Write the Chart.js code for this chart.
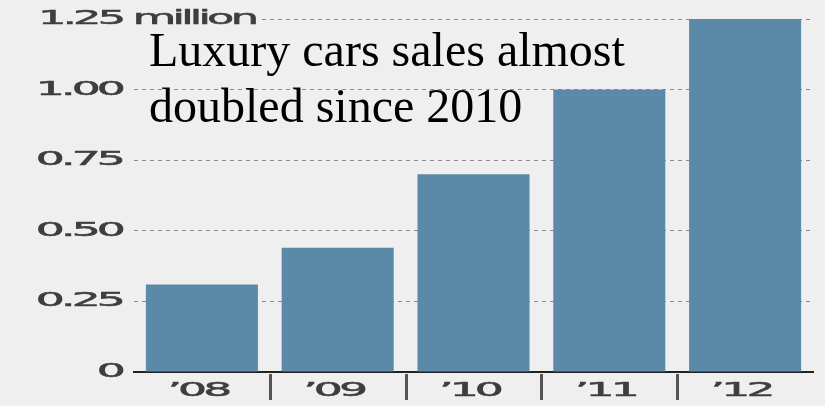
<!DOCTYPE html>
<html>
<head>
<meta charset="utf-8">
<script src="https://cdn.jsdelivr.net/npm/chart.js@4"></script>
<style>
  html, body { margin: 0; padding: 0; background: #efefef; overflow: hidden; }
  canvas { display: block; }
</style>
</head>
<body>
<canvas id="myChart" width="825" height="406"></canvas>
<script>
// luxury car sales per year, in millions
var years = ["\u201908", "\u201909", "\u201910", "\u201911", "\u201912"];
var sales = [0.31, 0.44, 0.70, 1.00, 1.25];

// y axis ticks and the text shown next to them
var yTicks = [0, 0.25, 0.5, 0.75, 1.0, 1.25];
var yTickLabels = ["0", "0.25", "0.50", "0.75", "1.00", "1.25 million"];

var titleLines = ["Luxury cars sales almost", "doubled since 2010"];

var bgColor = '#efefef';
var labelColor = '#3e3e3e';

// draws text stretched sideways (the axis labels use a wide face)
function wideText(ctx, text, x, y, align, stretch) {
    ctx.save();
    ctx.translate(x, y);
    ctx.scale(stretch, 1);
    ctx.textAlign = align;
    ctx.letterSpacing = '-1.6px';
    ctx.fillText(text, 0, 0);
    ctx.lineWidth = 0.5;
    ctx.strokeStyle = labelColor;
    ctx.strokeText(text, 0, 0);
    ctx.restore();
}

var labelPlugin = {
    id: 'labelPlugin',
    afterDraw: function(chart) {
        var ctx = chart.ctx;
        var yScale = chart.scales.y;
        var xScale = chart.scales.x;
        var area = chart.chartArea;

        ctx.save();

        // short dark marks between the years, below the axis line
        ctx.strokeStyle = '#555';
        ctx.lineWidth = 3;
        for (var k = 1; k < years.length; k++) {
            var sx = Math.round((xScale.getPixelForValue(k - 1) + xScale.getPixelForValue(k)) / 2) + 0.5;
            ctx.beginPath();
            ctx.moveTo(sx, area.bottom + 2);
            ctx.lineTo(sx, area.bottom + 28);
            ctx.stroke();
        }

        ctx.font = '19px "DejaVu Sans"';
        ctx.fillStyle = labelColor;
        ctx.textBaseline = 'middle';

        // y tick labels; the top one runs into the plot, so clear the grid under it
        for (var i = 0; i < yTicks.length; i++) {
            var y = yScale.getPixelForValue(yTicks[i]);
            if (i == yTicks.length - 1) {
                ctx.fillStyle = bgColor;
                ctx.fillRect(area.left - 2, y - 3, 262 - area.left, 6);
                ctx.fillStyle = labelColor;
                wideText(ctx, yTickLabels[i], 38, y, 'left', 2.35);
            } else {
                wideText(ctx, yTickLabels[i], 122, y, 'right', 2.4);
            }
        }

        // year labels under the bars
        for (var j = 0; j < years.length; j++) {
            var x = xScale.getPixelForValue(j);
            wideText(ctx, years[j], x - 4, 391, 'center', 2.4);
        }

        // headline over the chart
        ctx.fillStyle = '#000';
        ctx.textBaseline = 'alphabetic';
        ctx.textAlign = 'left';
        ctx.font = '48px "Liberation Serif"';
        ctx.fillText(titleLines[0], 149, 66);
        ctx.fillText(titleLines[1], 149, 122);
        ctx.restore();
    }
};

var ctx = document.getElementById('myChart').getContext('2d');

var chart = new Chart(ctx, {
    type: 'bar',
    data: {
        labels: years,
        datasets: [
            {
                label: "Sales",
                data: sales,
                backgroundColor: '#5b8aa8',
                borderWidth: 0,
                barPercentage: 0.825,
                categoryPercentage: 1.0
            }
        ]
    },
    options: {
        responsive: false,
        animation: false,
        layout: {
            padding: { left: 134, right: 12, top: 19, bottom: 34 }
        },
        plugins: {
            legend: { display: false },
            tooltip: { enabled: false }
        },
        scales: {
            x: {
                grid: { display: false, drawTicks: false },
                border: { display: true, color: '#222', width: 2 },
                ticks: { display: false }
            },
            y: {
                min: 0,
                max: 1.25,
                ticks: { display: false, stepSize: 0.25 },
                grid: { color: '#8a8a8a', lineWidth: 1, drawTicks: false },
                border: { display: false, dash: [4, 4] }
            }
        }
    },
    plugins: [labelPlugin]
});
</script>
</body>
</html>
